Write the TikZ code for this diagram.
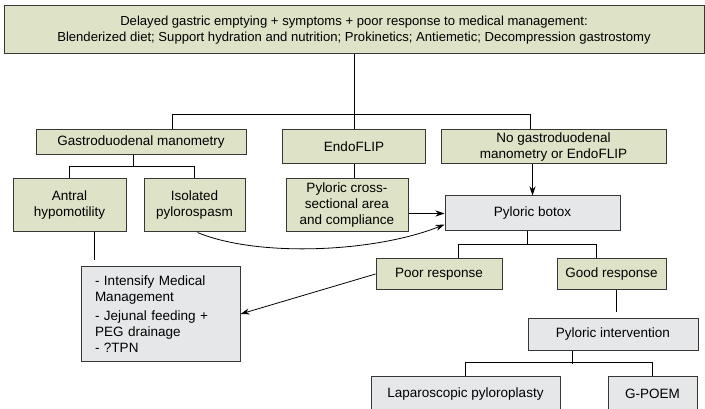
\documentclass[tikz,border=0pt]{standalone}
\usepackage{fontspec}
\setmainfont{Liberation Sans}
\usetikzlibrary{arrows.meta}
\definecolor{boxgreen}{RGB}{222,226,198}
\definecolor{boxgray}{RGB}{230,231,233}
\definecolor{edgegray}{RGB}{55,55,55}
\tikzset{
    greenbox/.style={draw=edgegray, fill=boxgreen, line width=1pt, inner sep=0pt,
        align=center, font=\fontsize{13.5}{16}\selectfont},
    graybox/.style={greenbox, fill=boxgray},
    link/.style={draw=black, line width=0.8pt},
    >={Stealth[length=9pt,width=6pt]}}

\begin{document}
\begin{tikzpicture}[x=1pt,y=-1pt]

            \clip (0,0) rectangle (705,409);

            \node[greenbox, minimum width=700, minimum height=48, font=\fontsize{13.1}{16}\selectfont] (top) at (354,30) {Delayed gastric emptying + symptoms + poor response to medical management:\\Blenderized diet; Support hydration and nutrition; Prokinetics; Antiemetic; Decompression gastrostomy};

            \node[greenbox, minimum width=210, minimum height=25] (gdm) at (141,142.5) {Gastroduodenal manometry};
            \node[greenbox, minimum width=143, minimum height=34] (endo) at (354,147) {EndoFLIP};
            \node[greenbox, minimum width=225, minimum height=34] (nogdm) at (553.5,147) {No gastroduodenal\\manometry or EndoFLIP};

            \node[greenbox, minimum width=113, minimum height=53] (antral) at (69.5,205.5) {Antral\\hypomotility};
            \node[greenbox, minimum width=101, minimum height=53] (iso) at (194.5,205.5) {Isolated\\pylorospasm};
            \node[greenbox, minimum width=122, minimum height=53] (cross) at (347,205.5) {Pyloric cross-\\sectional area\\and compliance};
            \node[graybox, minimum width=175, minimum height=35] (botox) at (532.5,213.5) {Pyloric botox};

            \node[graybox, minimum width=159, minimum height=94, text width=131, align=left] (medical) at (160.5,314) {- Intensify Medical\\Management\\[3pt]- Jejunal feeding +\\PEG drainage\\- ?TPN};
            \node[greenbox, minimum width=126, minimum height=30] (poor) at (439,274) {Poor response};
            \node[greenbox, minimum width=109, minimum height=30] (good) at (611.5,274) {Good response};
            \node[graybox, minimum width=170, minimum height=32] (interv) at (613,334) {Pyloric intervention};
            \node[graybox, minimum width=189, minimum height=36] (lap) at (465.5,394) {Laparoscopic pyloroplasty};
            \node[graybox, minimum width=89, minimum height=36] (gpoem) at (652.5,394) {G-POEM};

            \draw[link] (top.south) -- (endo.north);
            \draw[link] ([xshift=31pt]gdm.north) -- ++(0,-15) -| ([xshift=-23.5pt]nogdm.north);
            \draw[link] ([xshift=-8pt]gdm.south) -- ++(0,12);
            \draw[link] (antral.north) -- ++(0,-12) -| (iso.north);
            \draw[link] (endo.south) -- (endo.south |- cross.north);
            \draw[link] ([xshift=24.5pt]antral.south) -- ++(0,28);

            \draw[link, ->] (botox.north |- nogdm.south) -- (botox.north);
            \draw[link, ->] (cross.east |- botox.west) -- (botox.west);
            \draw[link, ->] ([xshift=3pt]iso.south) .. controls +(60,25) and +(-70,28) .. ([yshift=7pt]botox.south west);

            \draw[link] ([xshift=-5.5pt]botox.south) -- ++(0,14);
            \draw[link] ([xshift=19pt]poor.north) -- ++(0,-14) -| ([xshift=-15.5pt]good.north);
            \draw[link, ->] (poor.west) -- (medical.east);
            \draw[link] ([xshift=4.5pt]good.south) -- ++(0,22);

            \draw[link] ([xshift=-41pt]interv.south) -- ++(0,13);
            \draw[link] (lap.north) -- ++(0,-13) -| (gpoem.north);

        \end{tikzpicture}
\end{document}
